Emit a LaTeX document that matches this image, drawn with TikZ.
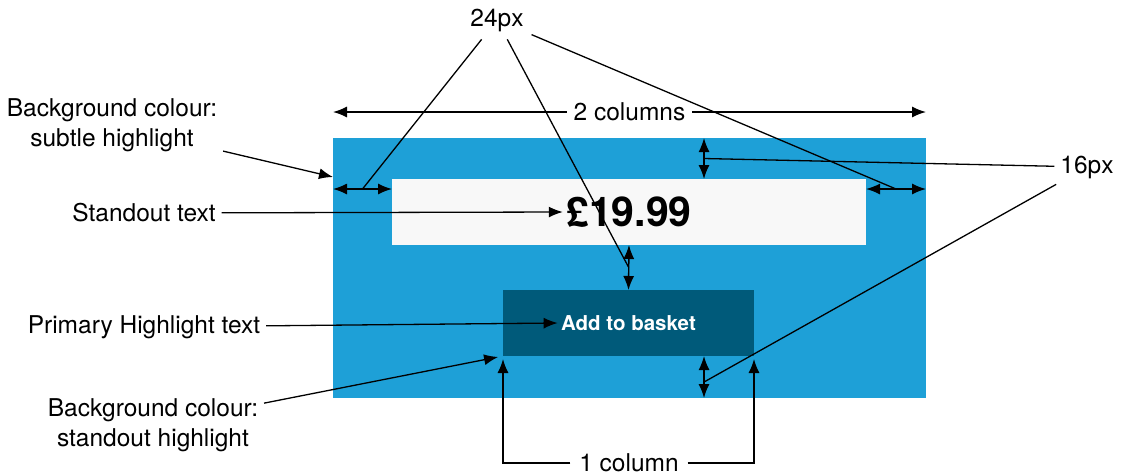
\documentclass[tikz,border=0pt]{standalone}
\usepackage{fontspec}
\setmainfont{TeX Gyre Heros}
\usetikzlibrary{arrows.meta,positioning,calc}
\definecolor{subtleBlue}{HTML}{1EA0D7}
\definecolor{standoutBlue}{HTML}{005A7A}
\definecolor{priceWhite}{HTML}{F8F8F8}

\begin{document}
\begin{tikzpicture}[x=1pt,y=-1pt,>={Latex[length=14pt,width=11pt]}]
\tikzstyle{panel}=[inner sep=0pt,outer sep=0pt,anchor=north west]
\tikzstyle{lbl}=[inner sep=0pt,outer sep=6pt,font=\fontsize{24.5}{30}\selectfont,align=center]
\tikzstyle{dim}=[<->,line width=1.4pt]
\tikzstyle{lead}=[line width=1.3pt]
\useasboundingbox (0,0) rectangle (1127,475);

% card
\node[panel,fill=subtleBlue,minimum width=593pt,minimum height=260pt] (bg) at (333,138) {};
\node[panel,fill=priceWhite,minimum width=474pt,minimum height=66pt] (price) at (392,179) {};
\node[font=\bfseries\fontsize{41}{44}\selectfont] (amount) at (price.center) {£19.99};
\node[panel,fill=standoutBlue,minimum width=251pt,minimum height=66pt] (btn) at (503,290) {};
\node[text=white,font=\bfseries\fontsize{20.5}{24}\selectfont] (btntext) at (btn.center) {Add to basket};

% labels
\node[lbl] (subtle) at (112,125) {Background colour:\\subtle highlight};
\node[lbl] (standout) at (144,213) {Standout text};
\node[lbl] (primary) at (144,327) {Primary Highlight text};
\node[lbl] (standhl) at (153,425) {Background colour:\\standout highlight};
\node[lbl,inner sep=8pt,outer sep=0pt] (px24) at (497,20) {24px};
\node[lbl,inner sep=6pt,outer sep=0pt] (px16) at (1087,167) {16px};

% dimensions
\draw[dim] (bg.west |- 0,112) -- node[lbl,fill=white,outer sep=0pt,inner sep=7pt] (twocol) {2 columns} (bg.east |- 0,112);
\draw[dim] (bg.west |- 0,189) -- coordinate (lgap) (price.west |- 0,189);
\draw[dim] (price.east |- 0,189) -- coordinate (rgap) (bg.east |- 0,189);
\draw[dim] (bg.north -| 704,0) -- coordinate (topgap) (price.north -| 704,0);
\draw[dim] (price.south) -- coordinate (midgap) (btn.north);
\draw[dim] (btn.south -| 704,0) -- coordinate[pos=.62] (botgap) (bg.south -| 704,0);

% leaders
\foreach \t in {lgap,midgap,rgap}{\draw[lead] (px24) -- (\t);}
\foreach \t in {topgap,botgap}{\draw[lead] (px16) -- (\t);}
\draw[lead,->] (subtle) -- (bg.west |- 0,177);
\draw[lead,->] (standout) -- (amount.west);
\draw[lead,->] (primary) -- (btntext.west);
\draw[lead,->,shorten >=5pt] (standhl) -- (btn.south west);

% 1 column
\node[lbl,inner sep=9pt,outer sep=0pt] (onecol) at (629,463) {1 column};
\draw[lead,->,shorten >=3pt] (onecol) -| (btn.south west);
\draw[lead,->,shorten >=3pt] (onecol) -| (btn.south east);
\end{tikzpicture}
\end{document}
